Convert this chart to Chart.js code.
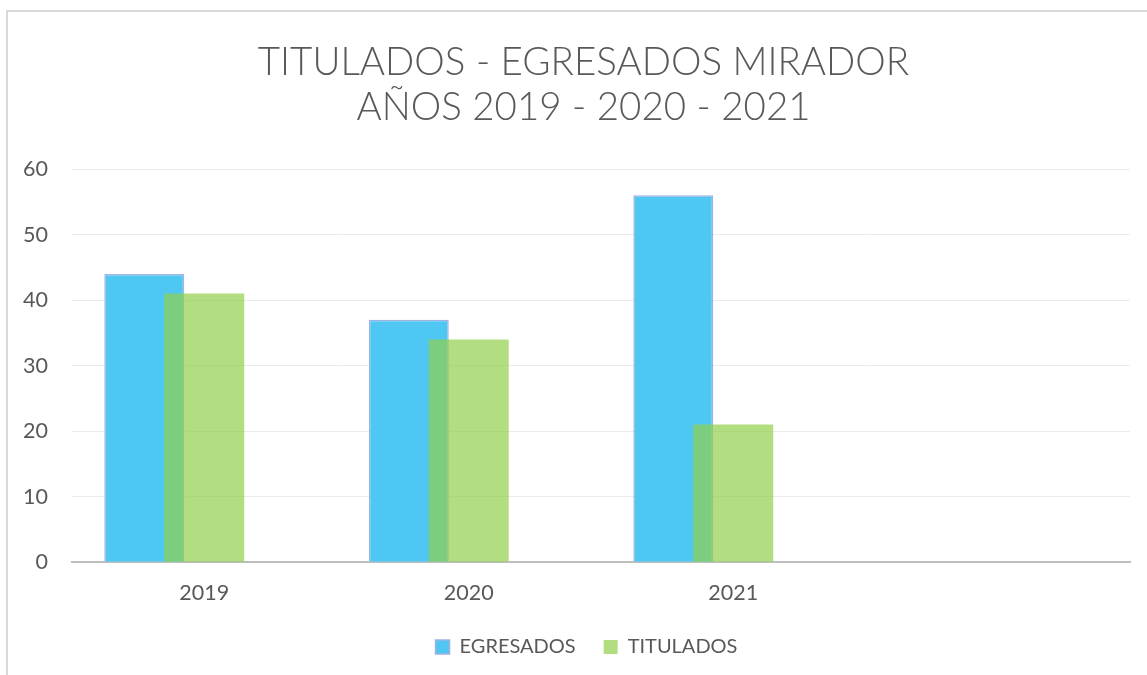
<!DOCTYPE html>
<html>
<head>
<meta charset="utf-8">
<script src="https://cdn.jsdelivr.net/npm/chart.js@4/dist/chart.umd.min.js"></script>
<style>
  html, body { margin: 0; padding: 0; background: #fff; }
  #wrap { position: relative; width: 1147px; height: 675px; }
  #frame { position: absolute; left: 6px; top: 10px; right: -4px; bottom: -4px; border-left: 2px solid #d9d9d9; border-top: 2px solid #d9d9d9; }
</style>
</head>
<body>
<div id="wrap">
  <div id="frame"></div>
  <canvas id="chart" width="1147" height="675"></canvas>
</div>
<script>
// chart data
const years = ['2019', '2020', '2021', ''];
const egresados = [44, 37, 56, null];
const titulados = [41, 34, 21, null];
const titleLines = ['TITULADOS - EGRESADOS MIRADOR', 'AÑOS 2019 - 2020 - 2021'];

const font = 'Lato, Carlito, Calibri, sans-serif';
const textColor = '#595959';

// title and legend are centred on the whole frame, not on the padded box
const shiftBlocks = {
    id: 'shiftBlocks',
    afterLayout(chart) {
        chart.titleBlock.left += 17;
        chart.titleBlock.right += 17;
        chart.legend.left += 20;
        chart.legend.right += 20;
    }
};

let ctx = document.getElementById('chart').getContext('2d');
window.myChart = new Chart(ctx, {
    type: 'bar',
    data: {
        labels: years,
        datasets: [{
            // not grouped: centred on the category and drawn over the blue bars
            label: 'TITULADOS',
            data: titulados,
            grouped: false,
            backgroundColor: 'rgba(145, 208, 76, 0.7)',
            borderWidth: 0,
            categoryPercentage: 0.907,
            barPercentage: 0.3333
        }, {
            label: 'EGRESADOS',
            data: egresados,
            backgroundColor: '#4fc7f3',
            borderColor: '#9fb2e2',
            borderWidth: 1.5,
            categoryPercentage: 0.907,
            barPercentage: 0.6667
        }, {
            // empty slot so the blue bar sits left of the category centre
            label: '',
            data: [],
            categoryPercentage: 0.907,
            barPercentage: 0.6667
        }]
    },
    options: {
        responsive: false,
        animation: false,
        layout: { padding: { left: 3, right: 17, top: 25, bottom: 8 } },
        plugins: {
            title: {
                display: true,
                text: titleLines,
                color: textColor,
                font: { family: font, size: 38.5, weight: '300', lineHeight: 1.17 },
                padding: { top: 15, bottom: 39 }
            },
            legend: {
                position: 'bottom',
                reverse: true,
                labels: {
                    color: textColor,
                    font: { family: font, size: 20 },
                    boxWidth: 14,
                    boxHeight: 14,
                    padding: 28,
                    filter: item => item.text !== ''
                }
            },
            tooltip: { enabled: false }
        },
        scales: {
            x: {
                grid: { display: false, drawTicks: false },
                border: { color: '#bfbfbf', width: 2 },
                ticks: { color: textColor, font: { family: font, size: 21.5 }, padding: 18 },
                afterFit: function (scale) { scale.height -= 15; }
            },
            y: {
                min: 0,
                max: 60,
                grid: { color: '#ebebeb', drawTicks: false },
                border: { display: false },
                ticks: { stepSize: 10, color: textColor, font: { family: font, size: 21.5 }, padding: 24 },
                afterFit: function (scale) { scale.width = 69; }
            }
        }
    },
    plugins: [shiftBlocks]
});
</script>
</body>
</html>
